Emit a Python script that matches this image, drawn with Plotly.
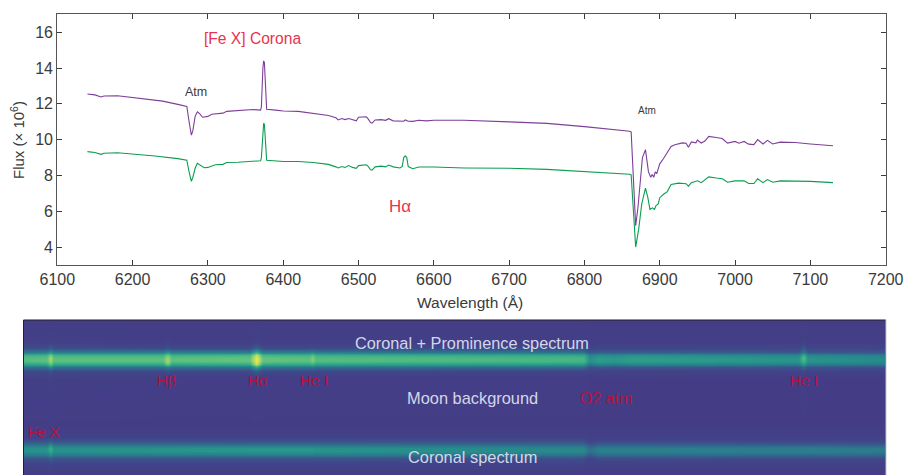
import plotly.graph_objects as go

W, H = 917, 475

# ---------- spectra ----------
wave_purple = [6140,6150,6158,6162,6180,6200,6220,6240,6260,6270,6272,6275,6278,6280,6283,6286,6289,6293,6297,6300,6305,6310,6320,6325,6340,6360,6370,6371,6373,6374,6375,6377,6378,6390,6400,6420,6440,6460,6470,6473,6478,6482,6487,6492,6497,6500,6510,6512,6516,6518,6522,6530,6536,6540,6546,6560,6562,6566,6572,6580,6590,6600,6640,6700,6750,6800,6840,6860,6862,6864,6866,6868,6871,6874,6877,6881,6883,6885,6888,6890,6892,6894,6896,6898,6900,6905,6910,6915,6920,6925,6930,6935,6938,6942,6948,6950,6955,6960,6965,6975,6983,6990,7000,7005,7012,7018,7025,7030,7037,7043,7050,7060,7080,7100,7120,7130]
flux_purple = [12.55,12.5,12.38,12.44,12.45,12.34,12.25,12.15,11.97,11.9,11.85,11.0,10.25,10.5,11.3,11.55,11.45,11.25,11.28,11.3,11.42,11.45,11.48,11.58,11.62,11.68,11.65,11.85,14.0,14.4,14.3,12.5,11.7,11.65,11.6,11.58,11.48,11.35,11.22,11.1,11.18,11.12,11.18,11.1,11.05,11.25,11.28,11.2,10.95,10.92,11.1,11.12,11.08,11.17,11.05,11.03,11.1,11.03,11.02,11.08,11.05,11.08,11.08,10.99,10.91,10.73,10.58,10.47,10.43,8.8,6.6,5.2,6.2,7.8,9.0,9.44,8.9,8.2,7.9,8.05,7.9,8.2,8.1,8.4,8.65,8.95,9.3,9.62,9.72,9.76,9.82,9.8,9.57,9.87,9.82,9.98,9.81,9.92,10.18,10.12,10.06,9.81,9.9,9.8,9.9,9.75,9.72,10.0,9.76,9.96,9.76,9.86,9.84,9.76,9.72,9.66]
wave_green = [6140,6150,6158,6162,6180,6200,6230,6260,6270,6272,6275,6278,6280,6283,6286,6290,6295,6300,6305,6310,6320,6325,6340,6360,6370,6371,6373,6374,6375,6377,6378,6400,6420,6440,6460,6470,6473,6478,6482,6487,6492,6497,6500,6510,6512,6516,6518,6522,6530,6536,6540,6546,6555,6558,6560,6562,6564,6566,6572,6580,6600,6640,6700,6750,6800,6840,6860,6862,6864,6866,6868,6872,6876,6881,6884,6887,6890,6893,6895,6898,6900,6905,6910,6915,6925,6935,6938,6942,6950,6955,6965,6975,6983,6990,7000,7012,7018,7025,7030,7037,7043,7050,7060,7100,7130]
flux_green = [9.33,9.28,9.18,9.24,9.27,9.2,9.09,8.94,8.88,8.85,8.2,7.67,7.9,8.4,8.68,8.55,8.43,8.45,8.52,8.6,8.62,8.72,8.74,8.8,8.82,9.0,10.5,10.92,10.85,9.5,8.85,8.78,8.78,8.72,8.62,8.48,8.42,8.5,8.45,8.55,8.45,8.4,8.55,8.6,8.55,8.32,8.3,8.48,8.52,8.48,8.58,8.48,8.42,8.5,9.0,9.1,9.0,8.5,8.38,8.47,8.47,8.42,8.4,8.34,8.22,8.13,8.07,8.03,6.5,4.9,4.0,5.0,6.4,7.29,6.8,6.1,6.19,6.1,6.32,6.41,6.76,6.95,7.1,7.5,7.57,7.54,7.4,7.6,7.7,7.6,7.92,7.86,7.82,7.62,7.7,7.7,7.55,7.55,7.82,7.6,7.77,7.62,7.7,7.67,7.6]
x_ticks = [6100,6200,6300,6400,6500,6600,6700,6800,6900,7000,7100,7200]
y_ticks = [4,6,8,10,12,14,16]

# ---------- spectrograph image (brightness, low resolution) ----------
img_cols = [0,23,26.5,30,139,143.5,148,226,232.5,239,285,288.5,292,560,566,575,590,610,775,779.5,784,862]
img_rows = [320,342,348,352,355,358,361,364,367,371,378,425,437,442,445,448,451,454,458,464,475]
r320 = [.03,.03,.03,.03,.03,.03,.03,.03,.03,.03,.03,.03,.03,.03,.03,.03,.03,.03,.03,.03,.03,.03]
r342 = [.06,.06,.08,.06,.05,.06,.05,.05,.08,.05,.05,.05,.05,.05,.04,.04,.04,.04,.04,.08,.04,.04]
r348 = [.14,.14,.2,.14,.13,.16,.13,.13,.22,.13,.13,.14,.13,.13,.09,.1,.1,.1,.1,.18,.1,.1]
r352 = [.3,.32,.42,.32,.32,.4,.32,.32,.55,.32,.32,.36,.31,.28,.17,.2,.19,.2,.18,.3,.18,.17]
r355 = [.56,.58,.74,.58,.58,.72,.58,.6,.9,.6,.58,.66,.56,.52,.34,.4,.38,.41,.36,.56,.36,.33]
r358 = [.64,.66,.84,.66,.66,.82,.66,.68,1.0,.68,.66,.76,.64,.6,.4,.46,.44,.47,.42,.66,.42,.38]
r361 = [.64,.66,.82,.66,.66,.84,.66,.68,1.0,.68,.66,.74,.64,.6,.4,.46,.44,.47,.42,.6,.42,.38]
r364 = [.5,.52,.7,.52,.52,.72,.52,.54,.92,.54,.52,.58,.5,.46,.3,.36,.34,.37,.33,.46,.33,.3]
r367 = [.27,.28,.4,.28,.28,.34,.28,.29,.5,.29,.28,.3,.27,.25,.15,.18,.17,.18,.16,.24,.16,.15]
r371 = [.12,.12,.16,.12,.12,.14,.12,.12,.2,.12,.12,.12,.11,.1,.08,.08,.08,.08,.08,.12,.08,.08]
r378 = [.05,.05,.06,.05,.04,.05,.04,.04,.06,.04,.04,.04,.04,.04,.03,.03,.03,.03,.03,.05,.03,.03]
r425 = [.03,.03,.04,.03,.03,.03,.03,.03,.03,.03,.03,.03,.03,.03,.03,.03,.03,.03,.03,.03,.03,.03]
r437 = [.07,.07,.1,.07,.07,.07,.07,.07,.07,.07,.07,.07,.07,.07,.05,.06,.06,.06,.06,.06,.06,.06]
r442 = [.18,.18,.24,.18,.18,.18,.18,.18,.18,.18,.18,.18,.18,.17,.1,.14,.14,.14,.13,.13,.13,.13]
r445 = [.3,.3,.42,.3,.3,.3,.3,.3,.3,.3,.3,.3,.29,.27,.18,.23,.23,.23,.22,.22,.22,.21]
r448 = [.4,.4,.55,.4,.41,.41,.41,.42,.42,.42,.42,.42,.41,.36,.26,.33,.33,.33,.32,.32,.32,.31]
r451 = [.41,.41,.54,.41,.42,.42,.42,.43,.43,.43,.43,.43,.42,.37,.27,.34,.34,.34,.33,.33,.33,.32]
r454 = [.34,.34,.42,.34,.34,.34,.34,.35,.35,.35,.35,.35,.34,.3,.21,.28,.28,.28,.27,.27,.27,.26]
r458 = [.17,.17,.22,.17,.17,.17,.17,.17,.17,.17,.17,.17,.17,.15,.1,.14,.14,.14,.13,.13,.13,.13]
r464 = [.08,.08,.11,.08,.08,.08,.08,.08,.08,.08,.08,.08,.08,.07,.05,.06,.06,.06,.06,.06,.06,.06]
r475 = [.03,.03,.05,.03,.03,.03,.03,.03,.03,.03,.03,.03,.03,.03,.03,.03,.03,.03,.03,.03,.03,.03]
img_z = [r320,r342,r348,r352,r355,r358,r361,r364,r367,r371,r378,r425,r437,r442,r445,r448,r451,r454,r458,r464,r475]

RED1 = "#e8334f"
RED2 = "#b8123c"
PALE = "#d4d6ea"
DARK = "#3a3a3a"
FONT = "Liberation Sans"

notes = [
    ("[Fe X] Corona", 252, 39, 15.6, RED1),
    ("Atm", 196, 92, 12.5, DARK),
    ("Atm", 647, 110, 10, DARK),
    ("Hα", 400, 206, 17, RED1),
    ("Coronal + Prominence spectrum", 472, 343, 16.3, PALE),
    ("Hβ", 167, 380, 15, RED2),
    ("Hα", 258, 380, 15, RED2),
    ("He I", 314, 380, 15.5, RED2),
    ("Moon background", 472, 398, 16.4, PALE),
    ("O2 atm", 606, 398, 16, RED2),
    ("He I", 804, 380, 15.5, RED2),
    ("Fe X", 44, 431, 15, RED2),
    ("Coronal spectrum", 472, 457, 16.4, PALE),
]
axis_notes = [
    ("Wavelength (Å)", 470, 302, 15.5, 0),
    ("Flux (× 10<sup>6</sup>)", 17, 140, 15, -90),
]

annotations = [dict(text=t, x=x/W, y=1-y/H, xref="paper", yref="paper",
                    xanchor="center", yanchor="middle", showarrow=False,
                    font=dict(size=s, color=c, family=FONT)) for t, x, y, s, c in notes]
annotations += [dict(text=t, x=x/W, y=1-y/H, xref="paper", yref="paper",
                     xanchor="center", yanchor="middle", showarrow=False, textangle=a,
                     font=dict(size=s, color=DARK, family=FONT)) for t, x, y, s, a in axis_notes]

fig = go.Figure()
fig.add_trace(go.Scatter(x=wave_purple, y=flux_purple, mode="lines",
                         line=dict(color="#7d3f98", width=1.1), showlegend=False))
fig.add_trace(go.Scatter(x=wave_green, y=flux_green, mode="lines",
                         line=dict(color="#0a9e50", width=1.1), showlegend=False))
fig.add_trace(go.Heatmap(x=img_cols, y=img_rows, z=img_z, xaxis="x2", yaxis="y2",
                         zmin=0, zmax=1, zsmooth="best", showscale=False,
                         colorscale=[[0, "#453a85"], [0.1, "#414589"], [0.22, "#33638d"],
                                     [0.4, "#26908c"], [0.55, "#38ad88"], [0.7, "#68c67c"],
                                     [0.85, "#aeda68"], [1, "#f0e84a"]]))

fig.update_layout(
    width=W, height=H, autosize=False,
    margin=dict(l=0, r=0, t=0, b=0),
    paper_bgcolor="white", plot_bgcolor="white",
    font=dict(family=FONT, color=DARK, size=16),
    xaxis=dict(domain=[57.3/W, 885.7/W], range=[6100, 7200], tickvals=x_ticks, automargin=False,
               ticks="inside", ticklen=5, tickcolor=DARK, tickwidth=1,
               showline=True, linecolor="#555555", linewidth=1.2, mirror="ticks",
               showgrid=False, zeroline=False),
    yaxis=dict(domain=[1-265/H, 1-14.3/H], range=[3, 17], tickvals=y_ticks, automargin=False,
               ticks="inside", ticklen=5, tickcolor=DARK, tickwidth=1,
               showline=True, linecolor="#555555", linewidth=1.2, mirror="ticks",
               showgrid=False, zeroline=False),
    xaxis2=dict(domain=[23.5/W, 885.7/W], range=[0, 862], visible=False, anchor="y2", automargin=False),
    yaxis2=dict(domain=[0, 1-320/H], range=[475, 320], visible=False, anchor="x2", automargin=False),
    annotations=annotations,
    shapes=[dict(type="line", xref="paper", yref="paper", x0=23.5/W, x1=885.7/W,
                 y0=1-320/H, y1=1-320/H, line=dict(color="#222222", width=1)),
            dict(type="line", xref="paper", yref="paper", x0=23.5/W, x1=23.5/W,
                 y0=0, y1=1-320/H, line=dict(color="#222222", width=1)),
            dict(type="line", xref="paper", yref="paper", x0=885.7/W, x1=885.7/W,
                 y0=0, y1=1-320/H, line=dict(color="#777777", width=1))],
)
fig.write_html("out.html", post_script="document.body.style.margin='0';",
               config=dict(displayModeBar=False))
